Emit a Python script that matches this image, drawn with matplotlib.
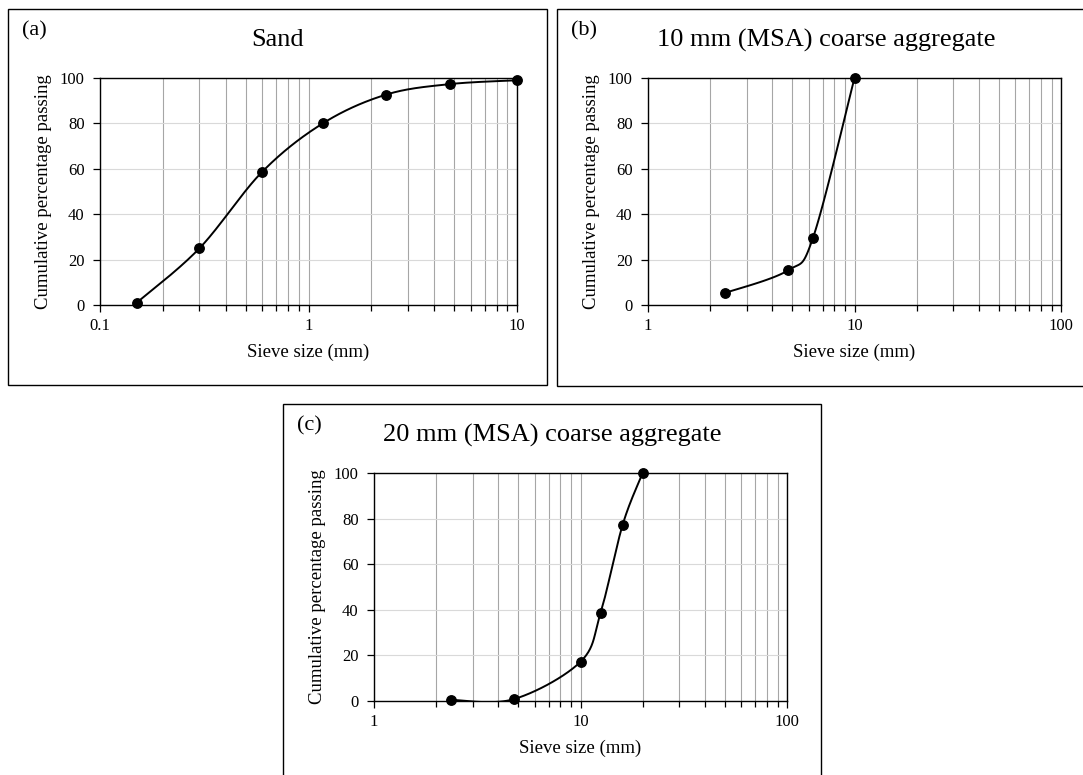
import numpy as np
import matplotlib
matplotlib.use('Agg')
import matplotlib.pyplot as plt
from matplotlib.patches import Rectangle
from matplotlib.ticker import LogLocator, NullFormatter, FuncFormatter

plt.rcParams['font.family'] = ['Liberation Serif', 'DejaVu Serif']

# sieve analysis data
sand_size = [0.15, 0.3, 0.6, 1.18, 2.36, 4.75, 10]
sand_pass = [1.0, 25.0, 58.7, 80.2, 92.7, 97.3, 99.0]

ca10_size = [2.36, 4.75, 6.3, 10]
ca10_pass = [5.3, 15.2, 29.7, 100.0]

ca20_size = [2.36, 4.75, 10, 12.5, 16, 20]
ca20_pass = [0.5, 0.8, 17.2, 38.5, 77.3, 100.0]

titles = ['Sand', '10 mm (MSA) coarse aggregate', '20 mm (MSA) coarse aggregate']
tags = ['(a)', '(b)', '(c)']
yticks = [0, 20, 40, 60, 80, 100]

W, H = 1083, 775
fig = plt.figure(figsize=(W / 100, H / 100), dpi=100)


def px_rect(x0, y0, x1, y1):
    # pixel box (top-left origin) -> figure fraction rect
    return [x0 / W, 1 - y1 / H, (x1 - x0) / W, (y1 - y0) / H]


def smooth(ax, xs, ys, n=40):
    # Excel-like smoothed line (Catmull-Rom / Bezier) in display space
    pts = ax.transData.transform(np.column_stack([xs, ys]))
    P = np.vstack([pts[0], pts, pts[-1]])
    out = []
    t = np.linspace(0, 1, n)[:, None]
    for i in range(1, len(P) - 2):
        p0, p1, p2, p3 = P[i - 1], P[i], P[i + 1], P[i + 2]
        c1 = p1 + (p2 - p0) / 6
        c2 = p2 - (p3 - p1) / 6
        seg = ((1 - t) ** 3) * p1 + 3 * ((1 - t) ** 2) * t * c1 + 3 * (1 - t) * t ** 2 * c2 + t ** 3 * p2
        out.append(seg)
    out = np.vstack(out)
    return ax.transData.inverted().transform(out)


boxes = [(8, 9, 547, 385), (557, 9, 1090, 386), (283, 404, 821, 790)]
axes_px = [(100, 78, 517, 305), (648, 78, 1061, 305), (374, 473, 787, 701)]
xlims = [(0.1, 10), (1, 100), (1, 100)]
data = [(sand_size, sand_pass), (ca10_size, ca10_pass), (ca20_size, ca20_pass)]

for k in range(3):
    bx0, by0, bx1, by1 = boxes[k]
    fig.patches.append(Rectangle((bx0 / W, 1 - by1 / H), (bx1 - bx0) / W, (by1 - by0) / H,
                                 transform=fig.transFigure, facecolor='white',
                                 edgecolor='black', linewidth=1.0, zorder=-5))
    fig.text(((bx0 + bx1) / 2) / W if k != 1 else 826 / W,
             1 - (40 if k < 2 else 435) / H, titles[k],
             ha='center', va='center', fontsize=19)
    fig.text((bx0 + 14) / W, 1 - (by0 + 22) / H, tags[k], ha='left', va='center', fontsize=16)

    ax = fig.add_axes(px_rect(*axes_px[k]))
    ax.set_xscale('log')
    ax.set_xlim(*xlims[k])
    ax.set_ylim(0, 100)
    ax.set_yticks(yticks)
    ax.xaxis.set_major_locator(LogLocator(base=10))
    ax.xaxis.set_minor_locator(LogLocator(base=10, subs=np.arange(2, 10)))
    ax.xaxis.set_minor_formatter(NullFormatter())
    ax.xaxis.set_major_formatter(FuncFormatter(lambda v, p: f'{v:g}'))
    ax.grid(True, which='both', axis='x', color='#a6a6a6', linewidth=0.8)
    ax.grid(True, which='major', axis='y', color='#d9d9d9', linewidth=0.8)
    ax.set_axisbelow(True)
    for s in ax.spines.values():
        s.set_color('black')
        s.set_linewidth(1.0)
    ax.tick_params(axis='both', which='major', direction='out', length=5, width=0.9,
                   labelsize=12, pad=4, colors='black')
    ax.tick_params(axis='x', which='minor', direction='out', length=4, width=0.9)
    ax.tick_params(axis='y', pad=6)

    xs, ys = data[k]
    fig.canvas.draw()
    curve = smooth(ax, xs, ys)
    ax.plot(curve[:, 0], curve[:, 1], color='black', linewidth=1.4, zorder=3)
    ax.plot(xs, ys, 'o', color='black', markersize=6.8, zorder=4, clip_on=False)

    ax.set_xlabel('Sieve size (mm)', fontsize=13.5)
    ax.set_ylabel('Cumulative percentage passing', fontsize=13.5)
    aw = axes_px[k][2] - axes_px[k][0]
    ah = axes_px[k][3] - axes_px[k][1]
    ax.xaxis.label.set_va('center')
    ax.yaxis.label.set_va('center')
    ax.xaxis.set_label_coords(0.5, -47 / ah)
    ax.yaxis.set_label_coords(-56 / aw, 0.5)

fig.savefig('out.png', dpi=100)
